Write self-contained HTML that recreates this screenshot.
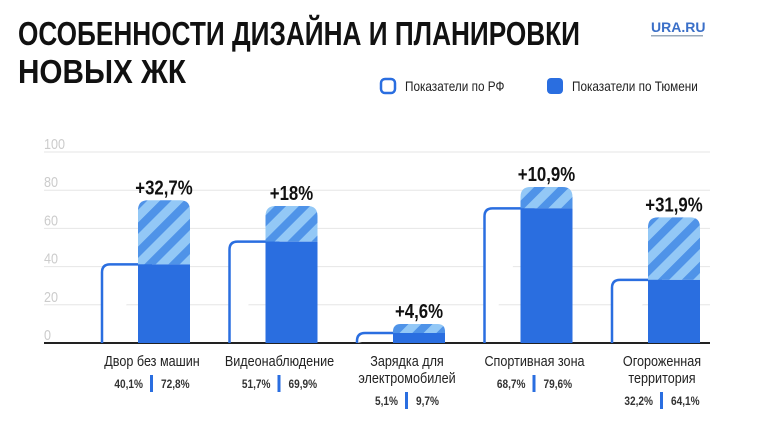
<!DOCTYPE html>
<html><head><meta charset="utf-8"><style>
body{margin:0;background:#fff;width:760px;height:427px;overflow:hidden;font-family:"Liberation Sans",sans-serif}
</style></head><body>
<svg id="c" width="760" height="427">
<defs><pattern id="hatch" patternUnits="userSpaceOnUse" width="17" height="17" patternTransform="rotate(45)">
<rect width="17" height="17" fill="#93c8f6"/><rect width="8" height="17" fill="#4f93e8"/></pattern></defs>
<g>
<text x="18" y="45" font-size="33" font-weight="bold" fill="#111" textLength="562" lengthAdjust="spacingAndGlyphs">ОСОБЕННОСТИ ДИЗАЙНА И ПЛАНИРОВКИ</text>
<text x="18" y="83" font-size="33" font-weight="bold" fill="#111" textLength="168" lengthAdjust="spacingAndGlyphs">НОВЫХ ЖК</text></g>
<text x="651" y="32" font-size="14" font-weight="bold" fill="#3a6fc8">URA.RU</text>
<rect x="651" y="35" width="52" height="1.5" fill="#9ab"/>
<g><rect x="381" y="79" width="14" height="14" rx="4" fill="#fff" stroke="#2a6ee0" stroke-width="2.5"/>
<text class="t" x="405" y="91" font-size="14" fill="#222">Показатели по РФ</text></g>
<g><rect x="547" y="78" width="16" height="16" rx="4" fill="#2a6ee0"/>
<text class="t" x="572" y="91" font-size="14" fill="#222">Показатели по Тюмени</text></g>
<g id="grid"></g><g id="bars"></g>
</svg>
<script>
const categories=[["Двор без машин"],["Видеонаблюдение"],["Зарядка для","электромобилей"],["Спортивная зона"],["Огороженная","территория"]];
const rfValues=[40.1,51.7,5.1,68.7,32.2];
const tyumenValues=[72.8,69.9,9.7,79.6,64.1];
const deltaLabels=["+32,7%","+18%","+4,6%","+10,9%","+31,9%"];
const yTicks=[0,20,40,60,80,100];
const NS="http://www.w3.org/2000/svg";
const y0=343,y100=152;
function yS(v){return y0-(y0-y100)*v/100;}
function yB(v){return y0-1.96*v;}
function groupX(i){return 102+i*127.5;}
function fmt(v){return v.toFixed(1).replace('.',',')+'%';}
function mk(p,tag,a){const e=document.createElementNS(NS,tag);for(const k in a)e.setAttribute(k,a[k]);p.appendChild(e);return e;}
const g=document.getElementById('grid'),b=document.getElementById('bars');
yTicks.forEach(t=>{
  const l=mk(g,'line',{x1:44,x2:710,y1:yS(t),y2:yS(t),stroke:t?'#e6e6e6':'#222','stroke-width':t?1:2});
  
  
  const tx=mk(g,'text',{x:44,y:yS(t)-3,'font-size':15,fill:'#ccc',class:'t'});tx.textContent=t;
  
  
});
categories.forEach((c,i)=>{
  const x=groupX(i),r=8;
  const yr=yB(rfValues[i]),yt=yB(tyumenValues[i]);
  const rf=mk(b,'path',{d:`M${x},${y0} V${yr+r} Q${x},${yr} ${x+r},${yr} H${x+50}`,fill:'#fff',stroke:'#2a6ee0','stroke-width':2.5});
  
  
  const tx0=x+36,w=52,rr=Math.min(10,(yr-yt)/1.2);
  const hp=mk(b,'path',{d:`M${tx0},${yr} V${yt+rr} Q${tx0},${yt} ${tx0+rr},${yt} H${tx0+w-rr} Q${tx0+w},${yt} ${tx0+w},${yt+rr} V${yr} Z`,fill:'url(#hatch)'});
  
  
  const dk=mk(b,'rect',{x:tx0,y:yr,width:w,height:y0-yr,fill:'#2a6ee0'});
  
  
  const d=mk(b,'text',{x:tx0+w/2,y:yt-6,'font-size':20,'font-weight':'bold','text-anchor':'middle',fill:'#111',class:'t'});d.textContent=deltaLabels[i];
  
  
  const cx=tx0+w/2-12;
  c.forEach((s,j)=>{const t=mk(b,'text',{x:cx,y:366+j*17,'font-size':15,'text-anchor':'middle',fill:'#222',class:'t'});t.textContent=s;
    
    });
  const vy=366+c.length*17+5;
  const a=mk(b,'text',{x:cx-9,y:vy,'font-size':12,'font-weight':'bold','text-anchor':'end',fill:'#333',class:'t'});a.textContent=fmt(rfValues[i]);
  
  
  const sep=mk(b,'rect',{x:cx-2,y:vy-13,width:3,height:17,fill:'#2a6ee0'});
  
  
  const t2=mk(b,'text',{x:cx+9,y:vy,'font-size':12,'font-weight':'bold',fill:'#333',class:'t'});t2.textContent=fmt(tyumenValues[i]);
  
  
});
document.querySelectorAll('text.t').forEach(t=>{
  const L=t.getComputedTextLength();
  t.setAttribute('textLength',(L*0.84).toFixed(1));
  t.setAttribute('lengthAdjust','spacingAndGlyphs');
});
</script>
</body></html>
